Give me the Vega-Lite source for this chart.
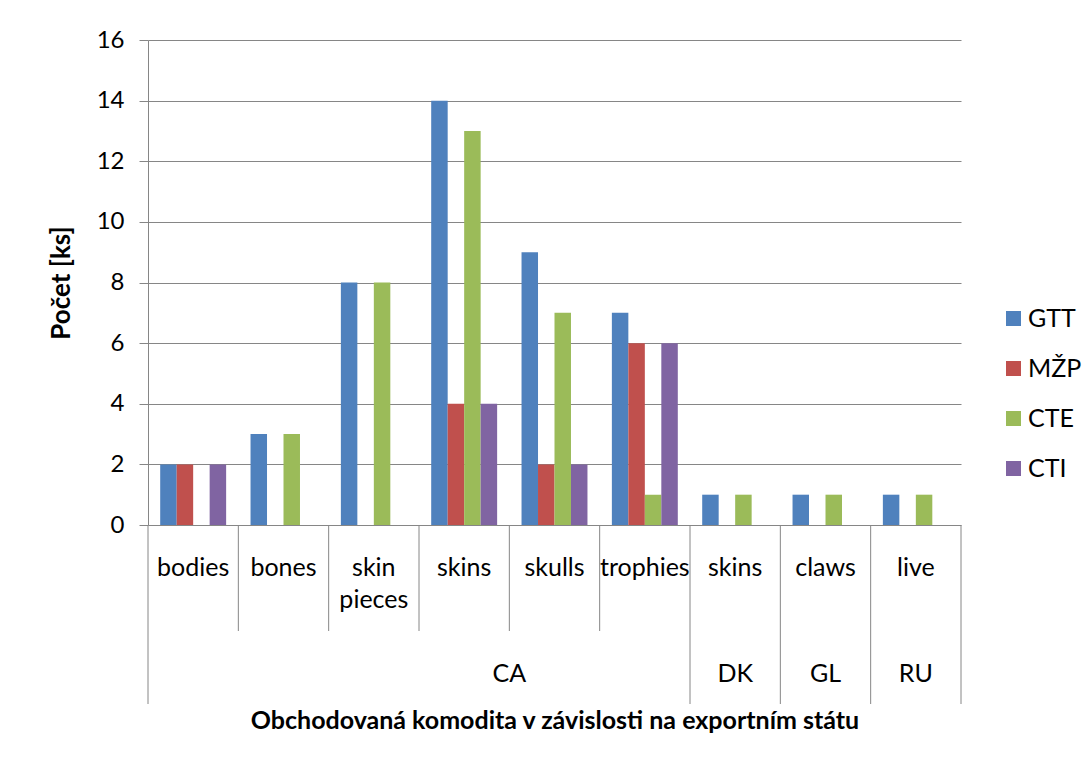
{
  "$schema": "https://vega.github.io/schema/vega-lite/v6.json",
  "autosize": {"type": "pad"},
  "padding": {"left": 48, "top": 28, "right": 5, "bottom": 5},
  "bounds": "flush",
  "background": "white",
  "config": {
    "view": {"stroke": null},
    "font": "Lato",
    "axis": {"labelFont": "Lato", "titleFont": "Lato"},
    "legend": {"labelFont": "Lato"},
    "text": {"font": "Lato"}
  },
  "datasets": {
    "bars": [
      {"key": "CA bodies", "series": "GTT", "value": 2},
      {"key": "CA bodies", "series": "MŽP", "value": 2},
      {"key": "CA bodies", "series": "CTE", "value": 0},
      {"key": "CA bodies", "series": "CTI", "value": 2},
      {"key": "CA bones", "series": "GTT", "value": 3},
      {"key": "CA bones", "series": "MŽP", "value": 0},
      {"key": "CA bones", "series": "CTE", "value": 3},
      {"key": "CA bones", "series": "CTI", "value": 0},
      {"key": "CA skin pieces", "series": "GTT", "value": 8},
      {"key": "CA skin pieces", "series": "MŽP", "value": 0},
      {"key": "CA skin pieces", "series": "CTE", "value": 8},
      {"key": "CA skin pieces", "series": "CTI", "value": 0},
      {"key": "CA skins", "series": "GTT", "value": 14},
      {"key": "CA skins", "series": "MŽP", "value": 4},
      {"key": "CA skins", "series": "CTE", "value": 13},
      {"key": "CA skins", "series": "CTI", "value": 4},
      {"key": "CA skulls", "series": "GTT", "value": 9},
      {"key": "CA skulls", "series": "MŽP", "value": 2},
      {"key": "CA skulls", "series": "CTE", "value": 7},
      {"key": "CA skulls", "series": "CTI", "value": 2},
      {"key": "CA trophies", "series": "GTT", "value": 7},
      {"key": "CA trophies", "series": "MŽP", "value": 6},
      {"key": "CA trophies", "series": "CTE", "value": 1},
      {"key": "CA trophies", "series": "CTI", "value": 6},
      {"key": "DK skins", "series": "GTT", "value": 1},
      {"key": "DK skins", "series": "MŽP", "value": 0},
      {"key": "DK skins", "series": "CTE", "value": 1},
      {"key": "DK skins", "series": "CTI", "value": 0},
      {"key": "GL claws", "series": "GTT", "value": 1},
      {"key": "GL claws", "series": "MŽP", "value": 0},
      {"key": "GL claws", "series": "CTE", "value": 1},
      {"key": "GL claws", "series": "CTI", "value": 0},
      {"key": "RU live", "series": "GTT", "value": 1},
      {"key": "RU live", "series": "MŽP", "value": 0},
      {"key": "RU live", "series": "CTE", "value": 1},
      {"key": "RU live", "series": "CTI", "value": 0}
    ],
    "cats": [
      {"key": "CA bodies", "label": "bodies", "country": "CA", "level": 1, "edgeLevel": 1},
      {"key": "CA bones", "label": "bones", "country": "CA", "level": 1, "edgeLevel": 1},
      {"key": "CA skin pieces", "label": "skin\npieces", "country": "CA", "level": 1, "edgeLevel": 1},
      {"key": "CA skins", "label": "skins", "country": "CA", "level": 1, "edgeLevel": 1},
      {"key": "CA skulls", "label": "skulls", "country": "CA", "level": 1, "edgeLevel": 1},
      {"key": "CA trophies", "label": "trophies", "country": "CA", "level": 1, "edgeLevel": 2},
      {"key": "DK skins", "label": "skins", "country": "DK", "level": 1, "edgeLevel": 2},
      {"key": "GL claws", "label": "claws", "country": "GL", "level": 1, "edgeLevel": 2},
      {"key": "RU live", "label": "live", "country": "RU", "level": 1, "edgeLevel": 2}
    ],
    "countries": [
      {"country": "CA", "anchor": "CA skulls", "level": 2},
      {"country": "DK", "anchor": "DK skins", "level": 2},
      {"country": "GL", "anchor": "GL claws", "level": 2},
      {"country": "RU", "anchor": "RU live", "level": 2}
    ]
  },
  "vconcat": [
    {
      "width": 813,
      "height": 485,
      "data": {"name": "bars"},
      "mark": {"type": "bar"},
      "encoding": {
        "x": {
          "field": "key", "type": "nominal",
          "sort": ["CA bodies", "CA bones", "CA skin pieces", "CA skins", "CA skulls", "CA trophies", "DK skins", "GL claws", "RU live"],
          "scale": {"paddingInner": 0, "paddingOuter": 0},
          "axis": null
        },
        "xOffset": {
          "field": "series", "type": "nominal",
          "sort": ["GTT", "MŽP", "CTE", "CTI"],
          "scale": {"paddingInner": 0, "paddingOuter": 0.74}
        },
        "y": {
          "field": "value", "type": "quantitative",
          "scale": {"domain": [0, 16]},
          "axis": {
            "title": "Počet [ks]",
            "titleFontSize": 26, "titleFontWeight": "bold", "titleColor": "black",
            "titlePadding": 22,
            "values": [0, 2, 4, 6, 8, 10, 12, 14, 16],
            "labelFontSize": 24, "labelColor": "black", "labelPadding": 15,
            "tickSize": 9, "tickColor": "#868686",
            "domainColor": "#868686",
            "gridColor": "#868686", "gridOpacity": 1
          }
        },
        "color": {
          "field": "series", "type": "nominal",
          "sort": ["GTT", "MŽP", "CTE", "CTI"],
          "scale": {"domain": ["GTT", "MŽP", "CTE", "CTI"], "range": ["#4F81BD", "#C0504D", "#9BBB59", "#8064A2"]},
          "legend": {
            "title": null, "orient": "none", "legendX": 853, "legendY": 266,
            "symbolType": "square", "symbolSize": 225, "symbolStrokeWidth": 0,
            "labelFontSize": 25, "labelColor": "black", "labelOffset": 2,
            "rowPadding": 24, "padding": 0
          }
        }
      }
    },
    {
      "width": 813,
      "height": 180,
      "layer": [
        {
          "data": {"name": "cats"},
          "mark": {"type": "rule", "color": "#868686"},
          "encoding": {
            "x": {"field": "key", "type": "nominal", "bandPosition": 1,
              "sort": ["CA bodies", "CA bones", "CA skin pieces", "CA skins", "CA skulls", "CA trophies", "DK skins", "GL claws", "RU live"],
              "axis": {"title": "Obchodovaná komodita v závislosti na exportním státu", "labels": false, "ticks": false, "domain": false,
                "titleFontSize": 25, "titleFontWeight": "bold", "titleColor": "black", "titleBaseline": "alphabetic", "titlePadding": 23}},
            "y": {"field": "edgeLevel", "type": "quantitative", "scale": {"domain": [1, 2], "range": [106, 179]}, "axis": null},
            "y2": {"value": 0}
          }
        },
        {
          "data": {"name": "cats"},
          "transform": [{"filter": "datum.key === 'CA bodies'"}],
          "mark": {"type": "rule", "color": "#868686"},
          "encoding": {
            "x": {"field": "key", "type": "nominal", "bandPosition": 0},
            "y": {"datum": 2, "type": "quantitative", "scale": {"domain": [1, 2], "range": [106, 179]}, "axis": null},
            "y2": {"value": 0}
          }
        },
        {
          "data": {"name": "cats"},
          "mark": {"type": "text", "fontSize": 25, "baseline": "alphabetic", "align": "center", "lineBreak": "\n", "lineHeight": 32, "color": "black"},
          "encoding": {
            "x": {"field": "key", "type": "nominal", "bandPosition": 0.5},
            "y": {"field": "level", "type": "quantitative", "scale": {"domain": [1, 2], "range": [51, 157]}, "axis": null},
            "text": {"field": "label"}
          }
        },
        {
          "data": {"name": "countries"},
          "transform": [{"filter": "datum.country === 'CA'"}],
          "mark": {"type": "text", "fontSize": 25, "baseline": "alphabetic", "align": "center", "color": "black"},
          "encoding": {
            "x": {"field": "anchor", "type": "nominal", "bandPosition": 0},
            "y": {"field": "level", "type": "quantitative", "scale": {"domain": [1, 2], "range": [51, 157]}, "axis": null},
            "text": {"field": "country"}
          }
        },
        {
          "data": {"name": "countries"},
          "transform": [{"filter": "datum.country !== 'CA'"}],
          "mark": {"type": "text", "fontSize": 25, "baseline": "alphabetic", "align": "center", "color": "black"},
          "encoding": {
            "x": {"field": "anchor", "type": "nominal", "bandPosition": 0.5},
            "y": {"field": "level", "type": "quantitative", "scale": {"domain": [1, 2], "range": [51, 157]}, "axis": null},
            "text": {"field": "country"}
          }
        }
      ],
      "resolve": {"scale": {"y": "independent"}}
    }
  ],
  "spacing": 0,
  "resolve": {"scale": {"x": "shared"}}
}
